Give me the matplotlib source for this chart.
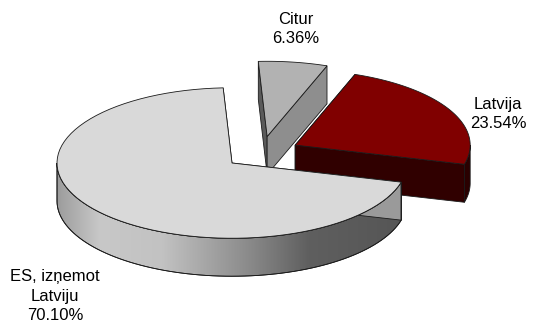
import numpy as np
import matplotlib
matplotlib.use('Agg')
import matplotlib.pyplot as plt
from matplotlib.patches import Polygon
from matplotlib.colors import LinearSegmentedColormap

plt.rcParams['font.family'] = ['Liberation Sans', 'DejaVu Sans']

# --- data ---
labels = ['Latvija', 'ES, izņemot\nLatviju', 'Citur']
values = [23.54, 70.10, 6.36]
top_colors = ['#800000', '#d9d9d9', '#b2b2b2']
face_colors = ['#300000', '#a8a8a8', '#8e8e8e']   # radial face, cw side
back_face_colors = ['#200000', '#9a9a9a', '#5a5a5a']
side_colors = ['#2a0000', None, '#777777']          # None -> gradient
label_pos = [(498, 114), (55, 296), (296, 29)]

# --- geometry (pixels) ---
CX, CY = 261.5, 152.7
R = 175.0
TILT = 0.43
DEPTH = 38.0
EXPLODE = 38.0
START = 20.0   # degrees clockwise from 12 o'clock


def pt(cx, cy, r, ang, dz=0.0):
    a = np.radians(ang)
    return cx + r * np.sin(a), cy - r * TILT * np.cos(a) + dz


def arc(cx, cy, a1, a2, dz=0.0, n=80):
    angs = np.linspace(a1, a2, n)
    xs, ys = pt(cx, cy, R, angs, dz)
    return np.column_stack([xs, ys])


fig = plt.figure(figsize=(5.33, 3.2), dpi=100)
ax = fig.add_axes([0, 0, 1, 1])
ax.set_xlim(0, 533)
ax.set_ylim(320, 0)
ax.axis('off')

side_cmap = LinearSegmentedColormap.from_list('side', [
    (0.0, '#9c9c9c'), (0.12, '#c8c8c8'), (0.3, '#c2c2c2'),
    (0.55, '#8a8a8a'), (0.72, '#5f5f5f'), (1.0, '#555555')])

# slices
total = sum(values)
spans = []
a = START
for v in values:
    a2 = a + 360.0 * v / total
    spans.append((a, a2))
    a = a2

# draw order back to front: Citur, Latvija, ES
order = [2, 0, 1]
EDGE = dict(edgecolor='#1a1a1a', linewidth=0.6)

for i in order:
    a1, a2 = spans[i]
    mid = np.radians((a1 + a2) / 2)
    cx = CX + EXPLODE * np.sin(mid)
    cy = CY - EXPLODE * TILT * np.cos(mid)

    # radial faces
    for ang, col in ((a1, back_face_colors[i]), (a2, face_colors[i])):
        ex, ey = pt(cx, cy, R, ang)
        poly = [(cx, cy), (ex, ey), (ex, ey + DEPTH), (cx, cy + DEPTH)]
        ax.add_patch(Polygon(poly, closed=True, facecolor=col, **EDGE))

    # outer side, front part only
    s1, s2 = max(a1, 90.0), min(a2, 270.0)
    if s2 > s1:
        top = arc(cx, cy, s1, s2)
        bot = arc(cx, cy, s2, s1, DEPTH)
        verts = np.vstack([top, bot])
        if side_colors[i] is None:
            side = Polygon(verts, closed=True, facecolor='none', **EDGE)
            ax.add_patch(side)
            grad = np.linspace(0, 1, 256).reshape(1, -1)
            im = ax.imshow(grad, cmap=side_cmap, aspect='auto',
                           extent=(cx - R, cx + R, cy + R * TILT + DEPTH, cy - R * TILT),
                           interpolation='bilinear', zorder=side.get_zorder() - 0.01)
            im.set_clip_path(side)
            ax.add_patch(Polygon(verts, closed=True, facecolor='none', **EDGE))
        else:
            ax.add_patch(Polygon(verts, closed=True, facecolor=side_colors[i], **EDGE))

    # top surface
    verts = np.vstack([[(cx, cy)], arc(cx, cy, a1, a2)])
    ax.add_patch(Polygon(verts, closed=True, facecolor=top_colors[i], **EDGE))

ax.set_xlim(0, 533)
ax.set_ylim(320, 0)

for lab, v, (x, y) in zip(labels, values, label_pos):
    ax.text(x, y, f'{lab}\n{v:.2f}%', ha='center', va='center',
            fontsize=12, linespacing=1.35, color='black')

fig.savefig('out.png', dpi=100)
